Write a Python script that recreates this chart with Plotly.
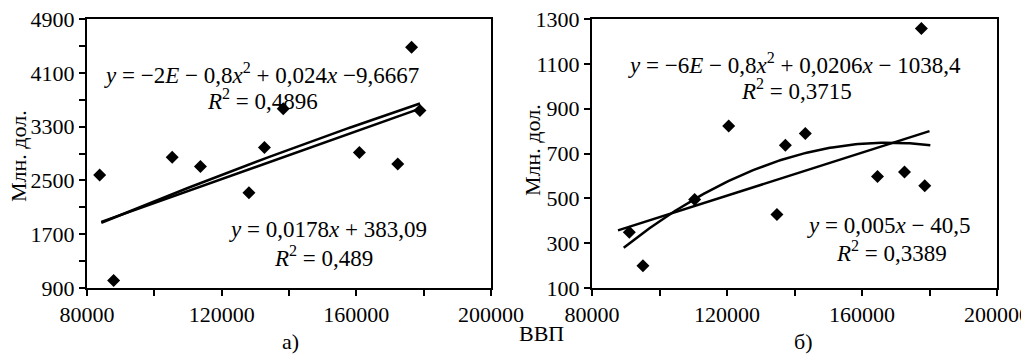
import numpy as np
import plotly.graph_objects as go

# ---- data: panel а) ----
gdp_a = [83760, 87900, 105300, 113700, 128100, 132700, 138300, 160900, 172300, 176400, 178900]
val_a = [2580, 1010, 2845, 2705, 2315, 2990, 3565, 2915, 2745, 4480, 3540]
# trend lines (polynomial coefficients, highest power first) and x-span
lin_a = [0.0178, 383.09]
quad_a = [-2e-8, 0.024, -9.6667]
span_a = [84250, 178900]

# ---- data: panel б) ----
gdp_b = [91060, 95100, 110400, 120500, 134800, 137300, 143200, 164600, 172600, 177600, 178600]
val_b = [349, 199, 495, 823, 428, 737, 789, 597, 617, 1258, 556]
lin_b = [0.0048, -64.0]
quad_b = [-7.61e-8, 0.02555, -1396.3]
span_lin_b = [87700, 180000]
span_quad_b = [89400, 180250]

# labels
eq_quad_a = "<i>y</i> = −2<i>E</i> − 0,8<i>x</i><sup>2</sup> + 0,024<i>x</i> −9,6667"
r2_quad_a = "<i>R</i><sup>2</sup> = 0,4896"
eq_lin_a = "<i>y</i> = 0,0178<i>x</i> + 383,09"
r2_lin_a = "<i>R</i><sup>2</sup> = 0,489"
eq_quad_b = "<i>y</i> = −6<i>E</i> − 0,8<i>x</i><sup>2</sup> + 0,0206<i>x</i> − 1038,4"
r2_quad_b = "<i>R</i><sup>2</sup> = 0,3715"
eq_lin_b = "<i>y</i> = 0,005<i>x</i> − 40,5"
r2_lin_b = "<i>R</i><sup>2</sup> = 0,3389"

W, H = 1029, 358
OFF = 8  # default page body margin in the written html
FONT = "Liberation Serif"

def trend(coef, span):
    xs = np.linspace(span[0], span[1], 120)
    return xs, np.polyval(coef, xs)

fig = go.Figure()
marker = dict(symbol="diamond", size=10, color="black")

fig.add_trace(go.Scatter(x=gdp_a, y=val_a, mode="markers", marker=marker, xaxis="x", yaxis="y"))
for coef in (lin_a, quad_a):
    xs, ys = trend(coef, span_a)
    fig.add_trace(go.Scatter(x=xs, y=ys, mode="lines", line=dict(color="black", width=2.5), xaxis="x", yaxis="y"))

fig.add_trace(go.Scatter(x=gdp_b, y=val_b, mode="markers", marker=marker, xaxis="x2", yaxis="y2"))
for coef, span in ((lin_b, span_lin_b), (quad_b, span_quad_b)):
    xs, ys = trend(coef, span)
    fig.add_trace(go.Scatter(x=xs, y=ys, mode="lines", line=dict(color="black", width=2.5), xaxis="x2", yaxis="y2"))

def px(x):
    return (x - OFF) / W

def py(y):
    return 1 - (y - OFF) / H

axis_common = dict(showgrid=False, zeroline=False, showline=True, linecolor="black", linewidth=2,
                   mirror=True, ticks="outside", ticklen=6, tickwidth=2, tickcolor="black",
                   automargin=False, ticklabeloverflow="allow",
                   tickfont=dict(family=FONT, size=22, color="black"), tickformat="d")

xdom_a = [px(87), px(491)]
xdom_b = [px(592), px(997)]
ydom = [py(288), py(19)]

fig.update_layout(
    width=W, height=H, margin=dict(l=0, r=0, t=0, b=0, autoexpand=False),
    paper_bgcolor="white", plot_bgcolor="white", showlegend=False,
    font=dict(family=FONT, color="black"),
    xaxis=dict(domain=xdom_a, anchor="y", range=[80000, 200000], tickvals=[80000, 120000, 160000, 200000],
               minor=dict(dtick=20000, tick0=80000, ticks="outside", ticklen=6, tickwidth=2, tickcolor="black"),
               **axis_common),
    yaxis=dict(domain=ydom, anchor="x", range=[900, 4900], tickvals=[900, 1700, 2500, 3300, 4100, 4900],
               minor=dict(dtick=400, tick0=900, ticks="outside", ticklen=6, tickwidth=2, tickcolor="black"),
               **axis_common),
    xaxis2=dict(domain=xdom_b, anchor="y2", range=[80000, 200000], tickvals=[80000, 120000, 160000, 200000],
                minor=dict(dtick=20000, tick0=80000, ticks="outside", ticklen=6, tickwidth=2, tickcolor="black"),
                **axis_common),
    yaxis2=dict(domain=ydom, anchor="x2", range=[100, 1300], tickvals=[100, 300, 500, 700, 900, 1100, 1300],
                **axis_common),
)

def ann(text, x, y, size=23, angle=0):
    fig.add_annotation(text=text, x=px(x), y=py(y), xref="paper", yref="paper", showarrow=False,
                       xanchor="center", yanchor="middle", textangle=angle,
                       font=dict(family=FONT, size=size, color="black"))

ann(eq_quad_a, 261, 74)
ann(r2_quad_a, 262, 99)
ann(eq_lin_a, 328, 230)
ann(r2_lin_a, 323, 256)
ann(eq_quad_b, 794, 63)
ann(r2_quad_b, 796, 89)
ann(eq_lin_b, 888, 225)
ann(r2_lin_b, 891, 251)

ann("Млн. дол.", 18, 156, size=22, angle=-90)
ann("Млн. дол.", 532, 150, size=22, angle=-90)
ann("ВВП", 541, 333, size=22)
ann("а)", 290, 341, size=22)
ann("б)", 803, 341, size=22)

fig.write_html("out.html")
